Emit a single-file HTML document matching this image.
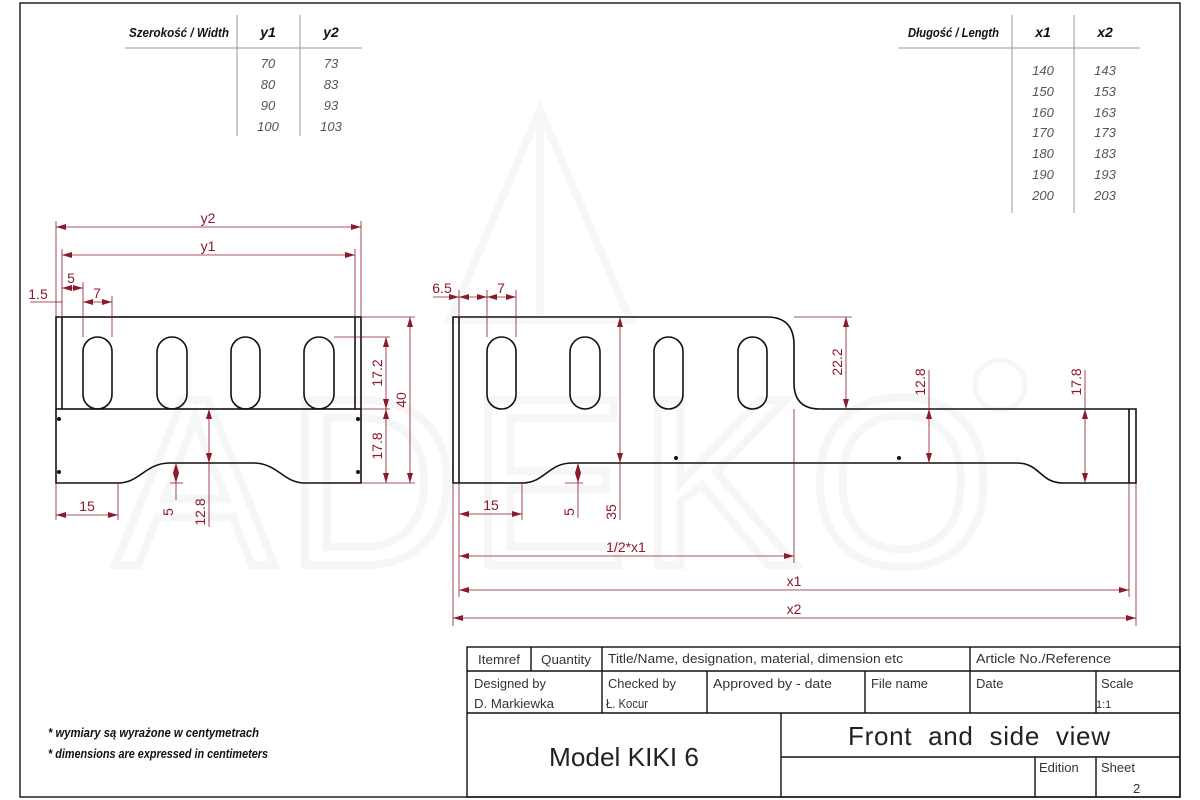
<!DOCTYPE html>
<html><head><meta charset="utf-8"><style>
html,body{margin:0;padding:0;background:#fff;}
svg{display:block;}
text{font-family:"Liberation Sans Narrow","Liberation Sans",sans-serif;}
</style></head><body>
<svg width="1200" height="800" viewBox="0 0 1200 800" xmlns="http://www.w3.org/2000/svg">
<defs>
<marker id="a" viewBox="0 0 10 6" refX="10" refY="3" markerWidth="10" markerHeight="6" orient="auto-start-reverse" markerUnits="userSpaceOnUse"><path d="M0,0 L10,3 L0,6 z" fill="#8b1a2a"/></marker>
</defs>
<!-- watermark -->
<text x="560" y="565" font-size="240" text-anchor="middle" fill="none" stroke="#f6f6f6" stroke-width="8" letter-spacing="10">ADEKO</text>
<path d="M540 110 L450 320 L630 320 Z M540 110 L540 320" fill="none" stroke="#f7f7f7" stroke-width="8"/>
<circle cx="1000" cy="385" r="25" fill="none" stroke="#f6f6f6" stroke-width="5"/>
<!-- frame -->
<rect x="20" y="3" width="1160" height="794" fill="none" stroke="#222" stroke-width="1.5"/>

<!-- tables -->
<g font-style="italic">
<text x="129" y="37" font-size="13" font-weight="bold" fill="#111" textLength="100" lengthAdjust="spacingAndGlyphs">Szerokość / Width</text>
<text x="268" y="37" font-size="14" font-weight="bold" text-anchor="middle" fill="#111">y1</text>
<text x="331" y="37" font-size="14" font-weight="bold" text-anchor="middle" fill="#111">y2</text>
<g font-size="13" fill="#555" text-anchor="middle">
<text x="268" y="68">70</text><text x="331" y="68">73</text>
<text x="268" y="89">80</text><text x="331" y="89">83</text>
<text x="268" y="110">90</text><text x="331" y="110">93</text>
<text x="268" y="131">100</text><text x="331" y="131">103</text>
</g>
<text x="908" y="37" font-size="13" font-weight="bold" fill="#111" textLength="91" lengthAdjust="spacingAndGlyphs">Długość / Length</text>
<text x="1043" y="37" font-size="14" font-weight="bold" text-anchor="middle" fill="#111">x1</text>
<text x="1105" y="37" font-size="14" font-weight="bold" text-anchor="middle" fill="#111">x2</text>
<g font-size="13" fill="#555" text-anchor="middle">
<text x="1043" y="75">140</text><text x="1105" y="75">143</text>
<text x="1043" y="96">150</text><text x="1105" y="96">153</text>
<text x="1043" y="117">160</text><text x="1105" y="117">163</text>
<text x="1043" y="137">170</text><text x="1105" y="137">173</text>
<text x="1043" y="158">180</text><text x="1105" y="158">183</text>
<text x="1043" y="179">190</text><text x="1105" y="179">193</text>
<text x="1043" y="200">200</text><text x="1105" y="200">203</text>
</g>
</g>
<g stroke="#999" stroke-width="1">
<line x1="125" y1="48" x2="362" y2="48"/><line x1="237" y1="15" x2="237" y2="136"/><line x1="300" y1="15" x2="300" y2="136"/>
<line x1="898" y1="48" x2="1140" y2="48"/><line x1="1012" y1="15" x2="1012" y2="213"/><line x1="1074" y1="15" x2="1074" y2="213"/>
</g>

<!-- LEFT VIEW -->
<g fill="none" stroke="#111" stroke-width="1.6">
<rect x="56" y="317" width="305" height="92"/>
<line x1="62" y1="317" x2="62" y2="409"/><line x1="355" y1="317" x2="355" y2="409"/>
<path d="M56 409 L56 483 L118 483 C140 483 145 463 170 463 L253 463 C278 463 283 483 305 483 L361 483 L361 409"/>
<rect x="83" y="337" width="29" height="72" rx="14.5"/>
<rect x="157" y="337" width="30" height="72" rx="15"/>
<rect x="231" y="337" width="29" height="72" rx="14.5"/>
<rect x="304" y="337" width="30" height="72" rx="15"/>
</g>
<g fill="#111"><circle cx="59" cy="419" r="2"/><circle cx="59" cy="472" r="2"/><circle cx="358" cy="419" r="2"/><circle cx="358" cy="472" r="2"/></g>
<g stroke="#8b1a2a" stroke-width="0.8" fill="none">
<line x1="56" y1="317" x2="56" y2="221"/><line x1="361" y1="317" x2="361" y2="221"/>
<line x1="62" y1="317" x2="62" y2="249"/><line x1="355" y1="317" x2="355" y2="249"/>
<line x1="83" y1="337" x2="83" y2="282"/><line x1="112" y1="337" x2="112" y2="296"/>
<line x1="361" y1="317" x2="415" y2="317"/><line x1="361" y1="483" x2="415" y2="483"/>
<line x1="334" y1="337" x2="390" y2="337"/><line x1="361" y1="409" x2="390" y2="409"/>
<line x1="56" y1="483" x2="56" y2="520"/><line x1="118" y1="483" x2="118" y2="520"/>
<line x1="170" y1="483" x2="183" y2="483"/><line x1="176" y1="463" x2="176" y2="500"/>
<line x1="209" y1="463" x2="209" y2="527"/>
<line x1="56" y1="227" x2="361" y2="227" marker-start="url(#a)" marker-end="url(#a)"/>
<line x1="62" y1="255" x2="355" y2="255" marker-start="url(#a)" marker-end="url(#a)"/>
<line x1="30" y1="302" x2="56" y2="302"/><line x1="56" y1="302" x2="62" y2="302"/>
<line x1="62" y1="288" x2="83" y2="288" marker-start="url(#a)" marker-end="url(#a)"/>
<line x1="83" y1="302" x2="112" y2="302" marker-start="url(#a)" marker-end="url(#a)"/>
<line x1="386" y1="337" x2="386" y2="409" marker-start="url(#a)" marker-end="url(#a)"/>
<line x1="386" y1="409" x2="386" y2="483" marker-start="url(#a)" marker-end="url(#a)"/>
<line x1="410" y1="317" x2="410" y2="483" marker-start="url(#a)" marker-end="url(#a)"/>
<line x1="56" y1="515" x2="118" y2="515" marker-start="url(#a)" marker-end="url(#a)"/>
<line x1="176" y1="463" x2="176" y2="483" marker-start="url(#a)" marker-end="url(#a)"/>
<line x1="209" y1="409" x2="209" y2="463" marker-start="url(#a)" marker-end="url(#a)"/>
</g>
<g fill="#8b1a2a" font-size="14" text-anchor="middle">
<text x="208" y="223">y2</text><text x="208" y="251">y1</text>
<text x="38" y="299">1.5</text><text x="71" y="283">5</text><text x="97" y="298">7</text>
<text x="87" y="511">15</text>
<text transform="translate(382,373) rotate(-90)">17.2</text>
<text transform="translate(382,446) rotate(-90)">17.8</text>
<text transform="translate(406,400) rotate(-90)">40</text>
<text transform="translate(173,512) rotate(-90)">5</text>
<text transform="translate(205,512) rotate(-90)">12.8</text>
</g>

<!-- FRONT VIEW -->
<g fill="none" stroke="#111" stroke-width="1.6">
<path d="M453 317 L767 317 Q794 317 794 345 L794 383 Q794 409 820 409 L1136 409 L1136 483 L1063 483 C1040 483 1040 463 1017 463 L572 463 C548 463 545 483 522 483 L453 483 Z"/>
<line x1="459" y1="317" x2="459" y2="483"/>
<line x1="1129" y1="409" x2="1129" y2="483"/>
<rect x="487" y="337" width="29" height="72" rx="14.5"/>
<rect x="570" y="337" width="30" height="72" rx="15"/>
<rect x="654" y="337" width="29" height="72" rx="14.5"/>
<rect x="738" y="337" width="29" height="72" rx="14.5"/>
</g>
<g fill="#111"><circle cx="676" cy="458" r="2"/><circle cx="899" cy="458" r="2"/></g>
<g stroke="#8b1a2a" stroke-width="0.8" fill="none">
<line x1="459" y1="317" x2="459" y2="290"/><line x1="487" y1="337" x2="487" y2="290"/><line x1="516" y1="337" x2="516" y2="290"/>
<line x1="453" y1="483" x2="453" y2="626"/><line x1="459" y1="483" x2="459" y2="597"/>
<line x1="522" y1="483" x2="522" y2="520"/><line x1="565" y1="483" x2="583" y2="483"/>
<line x1="578" y1="463" x2="578" y2="518"/><line x1="620" y1="463" x2="620" y2="520"/>
<line x1="794" y1="409" x2="794" y2="563"/><line x1="1129" y1="483" x2="1129" y2="597"/><line x1="1136" y1="483" x2="1136" y2="626"/>
<line x1="794" y1="317" x2="852" y2="317"/>
<line x1="929" y1="370" x2="929" y2="409"/><line x1="1085" y1="370" x2="1085" y2="409"/>
<line x1="433" y1="297" x2="459" y2="297" marker-end="url(#a)"/>
<line x1="459" y1="297" x2="487" y2="297" marker-start="url(#a)" marker-end="url(#a)"/>
<line x1="487" y1="297" x2="516" y2="297" marker-start="url(#a)" marker-end="url(#a)"/>
<line x1="459" y1="514" x2="522" y2="514" marker-start="url(#a)" marker-end="url(#a)"/>
<line x1="578" y1="463" x2="578" y2="483" marker-start="url(#a)" marker-end="url(#a)"/>
<line x1="620" y1="317" x2="620" y2="463" marker-start="url(#a)" marker-end="url(#a)"/>
<line x1="459" y1="556" x2="794" y2="556" marker-start="url(#a)" marker-end="url(#a)"/>
<line x1="459" y1="590" x2="1129" y2="590" marker-start="url(#a)" marker-end="url(#a)"/>
<line x1="453" y1="618" x2="1136" y2="618" marker-start="url(#a)" marker-end="url(#a)"/>
<line x1="846" y1="317" x2="846" y2="409" marker-start="url(#a)" marker-end="url(#a)"/>
<line x1="929" y1="409" x2="929" y2="463" marker-start="url(#a)" marker-end="url(#a)"/>
<line x1="1085" y1="409" x2="1085" y2="483" marker-start="url(#a)" marker-end="url(#a)"/>
</g>
<g fill="#8b1a2a" font-size="14" text-anchor="middle">
<text x="442" y="293">6.5</text><text x="501" y="293">7</text>
<text x="491" y="510">15</text>
<text x="626" y="552">1/2*x1</text>
<text x="794" y="586">x1</text><text x="794" y="614">x2</text>
<text transform="translate(574,512) rotate(-90)">5</text>
<text transform="translate(616,512) rotate(-90)">35</text>
<text transform="translate(842,362) rotate(-90)">22.2</text>
<text transform="translate(925,382) rotate(-90)">12.8</text>
<text transform="translate(1081,382) rotate(-90)">17.8</text>
</g>

<!-- notes -->
<g font-style="italic" font-weight="bold" font-size="12.5" fill="#111">
<text x="48" y="737" textLength="211" lengthAdjust="spacingAndGlyphs">* wymiary są wyrażone w centymetrach</text>
<text x="48" y="758" textLength="220" lengthAdjust="spacingAndGlyphs">* dimensions are expressed in centimeters</text>
</g>

<!-- title block -->
<g stroke="#111" stroke-width="1.4" fill="none">
<rect x="467" y="647" width="713" height="150"/>
<line x1="467" y1="671" x2="1180" y2="671"/>
<line x1="467" y1="713" x2="1180" y2="713"/>
<line x1="531" y1="647" x2="531" y2="671"/>
<line x1="602" y1="647" x2="602" y2="713"/>
<line x1="970" y1="647" x2="970" y2="713"/>
<line x1="707" y1="671" x2="707" y2="713"/>
<line x1="865" y1="671" x2="865" y2="713"/>
<line x1="1096" y1="671" x2="1096" y2="713"/>
<line x1="781" y1="713" x2="781" y2="797"/>
<line x1="781" y1="757" x2="1180" y2="757"/>
<line x1="1035" y1="757" x2="1035" y2="797"/>
<line x1="1096" y1="757" x2="1096" y2="797"/>
</g>
<g font-size="13" fill="#333">
<text x="478" y="664" textLength="42" lengthAdjust="spacingAndGlyphs">Itemref</text><text x="541" y="664" textLength="50" lengthAdjust="spacingAndGlyphs">Quantity</text>
<text x="608" y="663" textLength="295" lengthAdjust="spacingAndGlyphs">Title/Name, designation, material, dimension etc</text>
<text x="976" y="663" textLength="135" lengthAdjust="spacingAndGlyphs">Article No./Reference</text>
<text x="474" y="688" textLength="72" lengthAdjust="spacingAndGlyphs">Designed by</text><text x="474" y="708" textLength="80" lengthAdjust="spacingAndGlyphs">D. Markiewka</text>
<text x="608" y="688" textLength="68" lengthAdjust="spacingAndGlyphs">Checked by</text><text x="606" y="708" textLength="42" lengthAdjust="spacingAndGlyphs">Ł. Kocur</text>
<text x="713" y="688" textLength="119" lengthAdjust="spacingAndGlyphs">Approved by - date</text>
<text x="871" y="688" textLength="57" lengthAdjust="spacingAndGlyphs">File name</text>
<text x="976" y="688">Date</text>
<text x="1101" y="688">Scale</text><text x="1096" y="708" font-size="11">1:1</text>
<text x="1039" y="772">Edition</text><text x="1101" y="772">Sheet</text><text x="1133" y="793">2</text>
</g>
<text x="549" y="766" font-size="26" fill="#222" textLength="150" lengthAdjust="spacingAndGlyphs">Model KIKI 6</text>
<text x="848" y="745" font-size="26" fill="#222" textLength="262" lengthAdjust="spacing" word-spacing="8">Front and side view</text>
</svg>
</body></html>
